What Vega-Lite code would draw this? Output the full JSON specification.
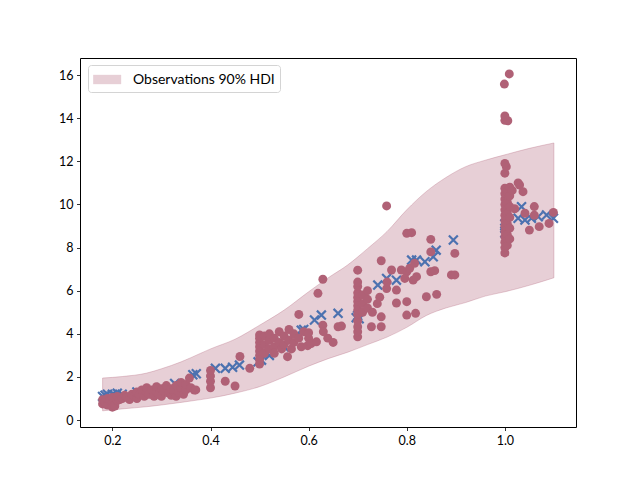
{
  "$schema": "https://vega.github.io/schema/vega-lite/v6.json",
  "width": 496,
  "height": 369,
  "autosize": {"type": "none"},
  "padding": {"left": 80, "top": 58, "right": 64, "bottom": 53},
  "background": "white",
  "config": {
    "font": "Lato",
    "view": {"stroke": "black", "strokeWidth": 1},
    "axis": {"grid": false, "domain": false, "tickColor": "black", "tickSize": 3.5, "tickWidth": 0.8, "labelColor": "black", "labelFontSize": 12.5, "labelPadding": 3.5, "title": null},
    "legend": {"labelFontSize": 14, "labelColor": "black"}
  },
  "datasets": {
    "band": [
      {"x": 0.18, "lo": 0.43, "hi": 1.95},
      {"x": 0.22, "lo": 0.52, "hi": 2.02},
      {"x": 0.27, "lo": 0.62, "hi": 2.18},
      {"x": 0.30, "lo": 0.70, "hi": 2.38},
      {"x": 0.34, "lo": 0.82, "hi": 2.70},
      {"x": 0.38, "lo": 0.95, "hi": 3.10},
      {"x": 0.40, "lo": 1.02, "hi": 3.30},
      {"x": 0.45, "lo": 1.25, "hi": 3.75},
      {"x": 0.50, "lo": 1.55, "hi": 4.40},
      {"x": 0.55, "lo": 2.00, "hi": 5.10},
      {"x": 0.60, "lo": 2.50, "hi": 5.95},
      {"x": 0.64, "lo": 2.85, "hi": 6.60},
      {"x": 0.68, "lo": 3.15, "hi": 7.20},
      {"x": 0.72, "lo": 3.50, "hi": 7.95},
      {"x": 0.76, "lo": 3.85, "hi": 8.75},
      {"x": 0.80, "lo": 4.30, "hi": 9.75},
      {"x": 0.84, "lo": 4.85, "hi": 10.60},
      {"x": 0.88, "lo": 5.20, "hi": 11.25},
      {"x": 0.92, "lo": 5.45, "hi": 11.75},
      {"x": 0.96, "lo": 5.75, "hi": 12.05},
      {"x": 1.00, "lo": 5.95, "hi": 12.30},
      {"x": 1.05, "lo": 6.25, "hi": 12.60},
      {"x": 1.10, "lo": 6.60, "hi": 12.85}
    ],
    "pred": [
      {"x": 0.18, "y": 1.1}, {"x": 0.185, "y": 1.15}, {"x": 0.19, "y": 1.2}, {"x": 0.2, "y": 1.2},
      {"x": 0.205, "y": 1.15}, {"x": 0.21, "y": 1.25}, {"x": 0.22, "y": 1.2}, {"x": 0.25, "y": 1.3},
      {"x": 0.28, "y": 1.4}, {"x": 0.3, "y": 1.5}, {"x": 0.327, "y": 1.7}, {"x": 0.364, "y": 2.1},
      {"x": 0.371, "y": 2.15}, {"x": 0.41, "y": 2.4}, {"x": 0.43, "y": 2.4}, {"x": 0.445, "y": 2.45},
      {"x": 0.459, "y": 2.55}, {"x": 0.497, "y": 2.7}, {"x": 0.504, "y": 2.78}, {"x": 0.52, "y": 3.0},
      {"x": 0.55, "y": 3.4}, {"x": 0.585, "y": 4.17}, {"x": 0.59, "y": 4.2}, {"x": 0.612, "y": 4.64},
      {"x": 0.626, "y": 4.87}, {"x": 0.66, "y": 4.95}, {"x": 0.697, "y": 4.75}, {"x": 0.7, "y": 4.85},
      {"x": 0.703, "y": 4.7}, {"x": 0.741, "y": 6.26}, {"x": 0.759, "y": 6.57}, {"x": 0.779, "y": 6.49},
      {"x": 0.81, "y": 7.42}, {"x": 0.82, "y": 7.42}, {"x": 0.837, "y": 7.34}, {"x": 0.854, "y": 7.57},
      {"x": 0.86, "y": 7.88}, {"x": 0.895, "y": 8.35}, {"x": 1.0, "y": 8.67}, {"x": 1.0, "y": 8.9},
      {"x": 1.0, "y": 9.1}, {"x": 1.034, "y": 9.89}, {"x": 1.027, "y": 9.36}, {"x": 1.041, "y": 9.28},
      {"x": 1.054, "y": 9.36}, {"x": 1.068, "y": 9.43}, {"x": 1.085, "y": 9.51}, {"x": 1.099, "y": 9.36}
    ],
    "obs": [
      {"x": 0.18, "y": 0.75}, {"x": 0.18, "y": 0.95}, {"x": 0.185, "y": 0.85}, {"x": 0.19, "y": 0.7},
      {"x": 0.19, "y": 1.0}, {"x": 0.195, "y": 0.9}, {"x": 0.2, "y": 0.8}, {"x": 0.2, "y": 1.05},
      {"x": 0.2, "y": 0.6}, {"x": 0.205, "y": 0.65}, {"x": 0.21, "y": 0.9}, {"x": 0.21, "y": 1.1},
      {"x": 0.215, "y": 0.95}, {"x": 0.22, "y": 1.0}, {"x": 0.225, "y": 1.15}, {"x": 0.23, "y": 1.05},
      {"x": 0.235, "y": 0.95}, {"x": 0.24, "y": 1.2}, {"x": 0.245, "y": 1.1}, {"x": 0.25, "y": 1.0},
      {"x": 0.25, "y": 1.3}, {"x": 0.255, "y": 1.2}, {"x": 0.26, "y": 1.4}, {"x": 0.265, "y": 1.1},
      {"x": 0.27, "y": 1.3}, {"x": 0.27, "y": 1.5}, {"x": 0.275, "y": 1.2}, {"x": 0.28, "y": 1.4},
      {"x": 0.285, "y": 1.1}, {"x": 0.29, "y": 1.3}, {"x": 0.29, "y": 1.55}, {"x": 0.295, "y": 1.2},
      {"x": 0.3, "y": 1.45}, {"x": 0.3, "y": 1.1}, {"x": 0.305, "y": 1.35}, {"x": 0.31, "y": 1.6},
      {"x": 0.315, "y": 1.25}, {"x": 0.32, "y": 1.15}, {"x": 0.32, "y": 1.45}, {"x": 0.325, "y": 1.35},
      {"x": 0.33, "y": 1.1}, {"x": 0.33, "y": 1.6}, {"x": 0.335, "y": 1.3}, {"x": 0.34, "y": 1.5},
      {"x": 0.34, "y": 1.75}, {"x": 0.345, "y": 1.2}, {"x": 0.35, "y": 1.4}, {"x": 0.35, "y": 1.65},
      {"x": 0.357, "y": 1.95}, {"x": 0.36, "y": 1.5}, {"x": 0.367, "y": 1.39}, {"x": 0.37, "y": 1.4},
      {"x": 0.4, "y": 1.5}, {"x": 0.4, "y": 1.8}, {"x": 0.4, "y": 2.05}, {"x": 0.4, "y": 2.3},
      {"x": 0.43, "y": 1.8}, {"x": 0.45, "y": 1.58}, {"x": 0.46, "y": 2.95}, {"x": 0.48, "y": 2.4},
      {"x": 0.5, "y": 2.6}, {"x": 0.5, "y": 2.8}, {"x": 0.5, "y": 3.0}, {"x": 0.5, "y": 3.2},
      {"x": 0.5, "y": 3.4}, {"x": 0.5, "y": 3.6}, {"x": 0.5, "y": 3.8}, {"x": 0.5, "y": 3.95},
      {"x": 0.51, "y": 3.1}, {"x": 0.51, "y": 3.5}, {"x": 0.51, "y": 3.9}, {"x": 0.52, "y": 3.3},
      {"x": 0.52, "y": 3.7}, {"x": 0.52, "y": 4.0}, {"x": 0.53, "y": 3.4}, {"x": 0.53, "y": 3.8},
      {"x": 0.53, "y": 3.1}, {"x": 0.54, "y": 3.6}, {"x": 0.54, "y": 4.1}, {"x": 0.545, "y": 3.3},
      {"x": 0.55, "y": 3.9}, {"x": 0.55, "y": 3.5}, {"x": 0.56, "y": 3.7}, {"x": 0.56, "y": 4.2},
      {"x": 0.557, "y": 2.94}, {"x": 0.565, "y": 3.3}, {"x": 0.57, "y": 4.0}, {"x": 0.57, "y": 3.6},
      {"x": 0.58, "y": 3.8}, {"x": 0.58, "y": 4.9}, {"x": 0.585, "y": 3.4}, {"x": 0.59, "y": 4.1},
      {"x": 0.598, "y": 3.45}, {"x": 0.6, "y": 3.8}, {"x": 0.6, "y": 4.05}, {"x": 0.605, "y": 3.55},
      {"x": 0.616, "y": 3.63}, {"x": 0.619, "y": 5.88}, {"x": 0.629, "y": 6.53}, {"x": 0.629, "y": 4.4},
      {"x": 0.639, "y": 3.8}, {"x": 0.65, "y": 3.6}, {"x": 0.66, "y": 4.33}, {"x": 0.667, "y": 4.36},
      {"x": 0.63, "y": 4.1},
      {"x": 0.7, "y": 3.86}, {"x": 0.7, "y": 4.1}, {"x": 0.7, "y": 4.33}, {"x": 0.7, "y": 4.6},
      {"x": 0.7, "y": 4.9}, {"x": 0.7, "y": 5.1}, {"x": 0.7, "y": 5.3}, {"x": 0.7, "y": 5.5},
      {"x": 0.7, "y": 5.7}, {"x": 0.7, "y": 5.9}, {"x": 0.7, "y": 6.2}, {"x": 0.7, "y": 6.4},
      {"x": 0.7, "y": 6.95}, {"x": 0.71, "y": 5.0}, {"x": 0.71, "y": 5.4}, {"x": 0.71, "y": 5.8},
      {"x": 0.72, "y": 5.2}, {"x": 0.72, "y": 5.6}, {"x": 0.72, "y": 6.0}, {"x": 0.728, "y": 4.33},
      {"x": 0.73, "y": 5.0}, {"x": 0.74, "y": 5.4}, {"x": 0.748, "y": 4.79}, {"x": 0.748, "y": 4.33},
      {"x": 0.745, "y": 5.7},
      {"x": 0.759, "y": 9.93}, {"x": 0.8, "y": 8.66}, {"x": 0.81, "y": 8.69}, {"x": 0.849, "y": 8.38},
      {"x": 0.898, "y": 7.73}, {"x": 0.748, "y": 7.39}, {"x": 0.769, "y": 6.96}, {"x": 0.779, "y": 6.03},
      {"x": 0.779, "y": 5.43}, {"x": 0.8, "y": 5.49}, {"x": 0.8, "y": 4.87}, {"x": 0.818, "y": 4.95},
      {"x": 0.84, "y": 5.72}, {"x": 0.861, "y": 5.83}, {"x": 0.849, "y": 6.88}, {"x": 0.857, "y": 6.93},
      {"x": 0.891, "y": 6.73}, {"x": 0.898, "y": 6.73}, {"x": 0.8, "y": 6.88}, {"x": 0.806, "y": 7.04},
      {"x": 0.816, "y": 7.27}, {"x": 0.789, "y": 6.96}, {"x": 0.796, "y": 6.57}, {"x": 0.813, "y": 6.49},
      {"x": 0.82, "y": 6.65}, {"x": 0.849, "y": 7.8}, {"x": 0.759, "y": 6.1}, {"x": 0.76, "y": 6.4},
      {"x": 1.0, "y": 7.75}, {"x": 1.0, "y": 8.0}, {"x": 1.0, "y": 8.25}, {"x": 1.0, "y": 8.5},
      {"x": 1.0, "y": 8.75}, {"x": 1.0, "y": 9.0}, {"x": 1.0, "y": 9.25}, {"x": 1.0, "y": 9.5},
      {"x": 1.0, "y": 9.75}, {"x": 1.0, "y": 10.0}, {"x": 1.0, "y": 10.25}, {"x": 1.0, "y": 10.5},
      {"x": 1.0, "y": 10.75}, {"x": 1.005, "y": 8.1}, {"x": 1.005, "y": 8.6}, {"x": 1.005, "y": 9.1},
      {"x": 1.005, "y": 9.6}, {"x": 1.005, "y": 10.1}, {"x": 1.005, "y": 10.6}, {"x": 1.01, "y": 8.4},
      {"x": 1.01, "y": 8.9}, {"x": 1.01, "y": 9.4}, {"x": 1.01, "y": 9.9}, {"x": 1.01, "y": 10.4},
      {"x": 1.01, "y": 10.8}, {"x": 1.0, "y": 11.45}, {"x": 1.003, "y": 11.75}, {"x": 1.0, "y": 11.9},
      {"x": 1.015, "y": 10.65}, {"x": 1.027, "y": 11.0}, {"x": 1.03, "y": 10.9}, {"x": 1.037, "y": 10.59},
      {"x": 1.0, "y": 13.9}, {"x": 1.006, "y": 13.88}, {"x": 1.0, "y": 14.1}, {"x": 0.999, "y": 15.58},
      {"x": 1.009, "y": 16.05}, {"x": 1.06, "y": 9.9}, {"x": 1.06, "y": 9.5}, {"x": 1.05, "y": 8.81},
      {"x": 1.07, "y": 8.97}, {"x": 1.09, "y": 9.12}, {"x": 1.099, "y": 9.63}, {"x": 1.041, "y": 9.59},
      {"x": 1.02, "y": 9.8}
    ]
  },
  "layer": [
    {
      "data": {"name": "band"},
      "mark": {"type": "area", "interpolate": "monotone", "fillOpacity": 0.3, "stroke": "#B06176", "strokeOpacity": 0.3, "strokeWidth": 1},
      "encoding": {
        "x": {"field": "x", "type": "quantitative", "scale": {"domain": [0.134, 1.145], "nice": false, "zero": false}, "axis": {"values": [0.2, 0.4, 0.6, 0.8, 1.0], "format": ".1f", "title": null}},
        "y": {"field": "lo", "type": "quantitative", "scale": {"domain": [-0.32, 16.79], "nice": false, "zero": false}, "axis": {"values": [0, 2, 4, 6, 8, 10, 12, 14, 16], "format": "d", "title": null}},
        "y2": {"field": "hi"},
        "fill": {
          "datum": "Observations 90% HDI",
          "type": "nominal",
          "scale": {"range": ["#B06176"]},
          "legend": {
            "title": null,
            "orient": "none",
            "legendX": 8,
            "legendY": 7,
            "padding": 5,
            "fillColor": "white",
            "strokeColor": "#d4d4d4",
            "cornerRadius": 3,
            "symbolType": "M-1,-0.5H2V0.5H-1Z",
            "symbolSize": 348,
            "symbolOpacity": 0.3,
            "symbolStrokeWidth": 0,
            "labelOffset": 21,
            "labelFontSize": 14,
            "labelColor": "black"
          }
        }
      }
    },
    {
      "data": {"name": "pred"},
      "mark": {"type": "point", "shape": "M-1,-1L1,1M-1,1L1,-1", "filled": false, "stroke": "#4C72B0", "strokeWidth": 2.2, "size": 80, "opacity": 1},
      "encoding": {
        "x": {"field": "x", "type": "quantitative"},
        "y": {"field": "y", "type": "quantitative"}
      }
    },
    {
      "data": {"name": "obs"},
      "mark": {"type": "circle", "color": "#B06176", "size": 80, "opacity": 1},
      "encoding": {
        "x": {"field": "x", "type": "quantitative"},
        "y": {"field": "y", "type": "quantitative"}
      }
    }
  ]
}
